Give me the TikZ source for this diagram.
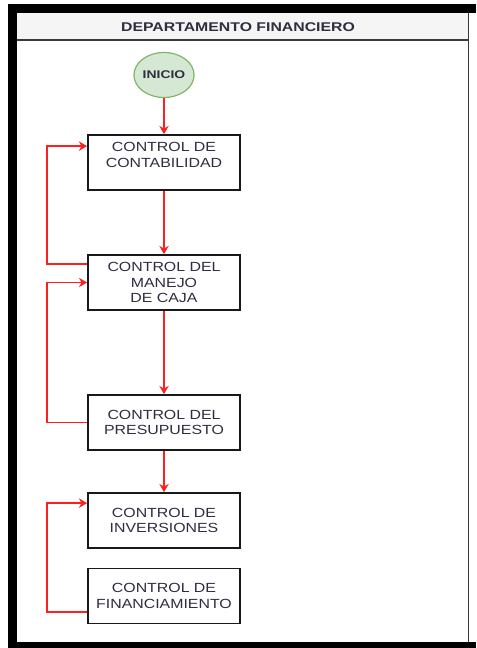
\documentclass[tikz,border=0pt]{standalone}
\usepackage{fontspec}
\setmainfont{Liberation Sans}
\newfontfamily\boxfont[FakeStretch=1.2]{Liberation Sans}
\newfontfamily\headfont[FakeStretch=1.25]{Liberation Sans}
\usepackage{tikz}
\usetikzlibrary{positioning,arrows.meta,calc,shapes.geometric}
\definecolor{dfRed}{HTML}{FF1F1F}
\definecolor{dfInk}{HTML}{2E2E40}
\definecolor{dfGreenFill}{HTML}{D5E8D4}
\definecolor{dfGreen}{HTML}{82B366}
\definecolor{dfHead}{HTML}{F5F5F5}
\definecolor{dfRule}{HTML}{3A3A3A}

\begin{document}
\begin{tikzpicture}[
      x=.03cm, y=-.03cm,
      ctrl/.style={draw=black!90, line width=1.5pt, fill=white,
        minimum width=4.56cm, minimum height=1.65cm, inner sep=0pt,
        align=center, text=dfInk,
        font=\boxfont\fontsize{11.3}{13.4}\selectfont},
      start/.style={ellipse, draw=dfGreen, line width=1pt, fill=dfGreenFill,
        minimum width=1.74cm, minimum height=1.35cm, inner sep=0pt,
        text=dfInk, font=\headfont\bfseries\fontsize{9.5}{11}\selectfont},
      flow/.style={draw=dfRed, line width=1.6pt,
        -{Stealth[length=7pt,width=8pt]}},
      title/.style={text=dfInk, font=\headfont\bfseries\fontsize{10.8}{12}\selectfont}
    ]
      \useasboundingbox (0,0) rectangle (476,648);

      % lane frame
      \fill[dfHead] (17,13) rectangle (468,40);
      \draw[dfRule, line width=1.3pt] (17,40) -- (468,40);
      \draw[dfRule, line width=1.6pt] (468.5,13) -- (468.5,642);
      \fill[black] (8,4) rectangle (476,13);
      \fill[black] (8,4) rectangle (17,648);
      \fill[black] (8,642) rectangle (476,648);
      \node[title] (lane) at (238,27) {DEPARTAMENTO FINANCIERO};

      % steps
      \node[start] (inicio) at (164,75) {INICIO};
      \node[ctrl] (contab) at (164,162.5) {CONTROL DE\\CONTABILIDAD\\~};
      \node[ctrl] (caja) at (164,282.5) {CONTROL DEL\\MANEJO\\DE CAJA};
      \node[ctrl] (presup) at (164,422.5) {CONTROL DEL\\PRESUPUESTO};
      \node[ctrl] (invers) at (164,520.5) {CONTROL DE\\INVERSIONES};
      \node[ctrl] (financ) at (164,596) {CONTROL DE\\FINANCIAMIENTO};

      \draw[flow] (inicio) -- (contab);
      \draw[flow] (contab) -- (caja);
      \draw[flow] (caja) -- (presup);
      \draw[flow] (presup) -- (invers);

      % returns on the left
      \coordinate (out1) at ($(caja.north west)+(0,10)$);
      \coordinate (in1) at ($(contab.north west)+(0,12)$);
      \coordinate (out3) at ($(financ.south west)+(0,-12)$);
      \coordinate (in3) at ($(invers.north west)+(0,11)$);

      \draw[flow] (out1) -- ++(-40,0) |- (in1);
      \draw[flow] (presup.west) -- ++(-40,0) |- (caja.west);
      \draw[flow] (out3) -- ++(-40,0) |- (in3);
    \end{tikzpicture}
\end{document}
